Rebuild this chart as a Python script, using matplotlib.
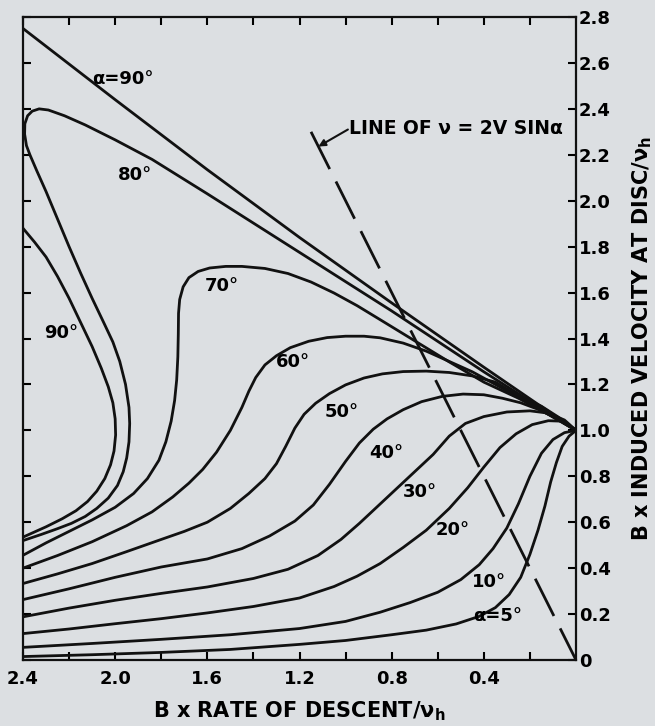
import numpy as np
import matplotlib.pyplot as plt

plt.rcParams['font.family'] = ['DejaVu Sans']
plt.rcParams['font.weight'] = 'bold'
plt.rcParams['axes.labelweight'] = 'bold'
plt.rcParams['mathtext.fontset'] = 'dejavusans'

bg_color = '#dcdfe2'

# alpha = 90 deg, upper branch
x_90_upper = [2.40, 2.00, 1.60, 1.20, 0.80, 0.40, 0.00]
y_90_upper = [2.75, 2.44, 2.135, 1.84, 1.555, 1.275, 1.00]

# alpha = 90 deg, inner loop
x_90_loop = [2.40, 2.35, 2.30, 2.25, 2.20, 2.15, 2.10, 2.06, 2.03, 2.01, 2.00,
             1.998, 2.005, 2.02, 2.045, 2.08, 2.12, 2.17, 2.23, 2.30, 2.40]
y_90_loop = [1.88, 1.82, 1.755, 1.67, 1.575, 1.47, 1.365, 1.27, 1.19, 1.12, 1.05,
             0.98, 0.91, 0.85, 0.79, 0.735, 0.69, 0.65, 0.615, 0.58, 0.535]

x_80 = [0.00, 0.40, 0.80, 1.20, 1.60, 1.84, 2.00, 2.13, 2.22, 2.29, 2.33,
        2.36, 2.38, 2.392, 2.393, 2.385, 2.37, 2.34, 2.30, 2.25, 2.20, 2.15,
        2.10, 2.05, 2.01, 1.98, 1.955, 1.94, 1.937, 1.94, 1.95, 1.965, 1.99,
        2.03, 2.08, 2.13, 2.19, 2.25, 2.32, 2.40]
y_80 = [1.00, 1.255, 1.52, 1.775, 2.03, 2.18, 2.265, 2.33, 2.37, 2.395, 2.40,
        2.39, 2.37, 2.335, 2.29, 2.24, 2.20, 2.13, 2.04, 1.92, 1.80, 1.685,
        1.575, 1.47, 1.385, 1.30, 1.20, 1.10, 1.03, 0.95, 0.88, 0.82, 0.76,
        0.705, 0.66, 0.625, 0.595, 0.572, 0.547, 0.52]

x_70 = [2.40, 2.30, 2.20, 2.10, 2.00, 1.92, 1.86, 1.81, 1.78, 1.757, 1.742,
        1.733, 1.728, 1.726, 1.725, 1.72, 1.705, 1.68, 1.64, 1.59, 1.52, 1.45,
        1.35, 1.25, 1.15, 1.05, 0.95, 0.85, 0.70, 0.55, 0.40, 0.25, 0.12, 0.00]
y_70 = [0.456, 0.51, 0.56, 0.61, 0.665, 0.725, 0.79, 0.87, 0.95, 1.04, 1.13,
        1.22, 1.32, 1.42, 1.51, 1.57, 1.625, 1.665, 1.692, 1.707, 1.714, 1.714,
        1.705, 1.683, 1.646, 1.598, 1.543, 1.482, 1.39, 1.298, 1.21, 1.14, 1.07, 1.00]

x_60 = [2.40, 2.25, 2.10, 1.95, 1.84, 1.75, 1.68, 1.62, 1.56, 1.50, 1.45,
        1.42, 1.39, 1.35, 1.30, 1.24, 1.16, 1.08, 1.00, 0.92, 0.85, 0.75,
        0.65, 0.55, 0.45, 0.35, 0.25, 0.12, 0.00]
y_60 = [0.40, 0.455, 0.515, 0.585, 0.645, 0.71, 0.77, 0.83, 0.905, 1.00, 1.10,
        1.17, 1.23, 1.285, 1.325, 1.36, 1.388, 1.404, 1.41, 1.41, 1.403, 1.38,
        1.345, 1.30, 1.255, 1.20, 1.145, 1.07, 1.00]

x_50 = [2.40, 2.25, 2.10, 1.95, 1.80, 1.70, 1.60, 1.50, 1.42, 1.35, 1.30,
        1.26, 1.22, 1.18, 1.13, 1.07, 1.00, 0.92, 0.84, 0.75, 0.65, 0.55,
        0.45, 0.35, 0.25, 0.15, 0.08, 0.00]
y_50 = [0.333, 0.375, 0.42, 0.472, 0.525, 0.56, 0.60, 0.66, 0.725, 0.79, 0.855,
        0.93, 1.01, 1.07, 1.118, 1.16, 1.198, 1.228, 1.246, 1.256, 1.258, 1.252,
        1.237, 1.21, 1.15, 1.105, 1.06, 1.00]

x_40 = [2.40, 2.20, 2.00, 1.80, 1.60, 1.45, 1.33, 1.22, 1.14, 1.07, 1.00,
        0.94, 0.88, 0.82, 0.75, 0.67, 0.58, 0.49, 0.40, 0.32, 0.24, 0.16, 0.08, 0.00]
y_40 = [0.263, 0.31, 0.36, 0.405, 0.44, 0.485, 0.54, 0.605, 0.675, 0.765, 0.865,
        0.945, 1.005, 1.05, 1.09, 1.125, 1.148, 1.158, 1.155, 1.14, 1.12, 1.09, 1.05, 1.00]

x_30 = [2.40, 2.20, 2.00, 1.80, 1.60, 1.40, 1.25, 1.12, 1.02, 0.94, 0.86,
        0.78, 0.70, 0.62, 0.55, 0.48, 0.40, 0.30, 0.20, 0.12, 0.05, 0.00]
y_30 = [0.188, 0.226, 0.26, 0.29, 0.318, 0.355, 0.395, 0.455, 0.525, 0.595, 0.67,
        0.745, 0.82, 0.895, 0.975, 1.03, 1.06, 1.08, 1.085, 1.075, 1.045, 1.00]

x_20 = [2.40, 2.20, 2.00, 1.80, 1.60, 1.40, 1.20, 1.05, 0.95, 0.85, 0.75,
        0.65, 0.55, 0.47, 0.40, 0.33, 0.26, 0.19, 0.12, 0.06, 0.00]
y_20 = [0.115, 0.135, 0.158, 0.18, 0.205, 0.233, 0.27, 0.32, 0.365, 0.42, 0.49,
        0.565, 0.66, 0.75, 0.84, 0.925, 0.985, 1.025, 1.042, 1.04, 1.00]

x_10 = [2.40, 2.10, 1.80, 1.50, 1.20, 1.00, 0.85, 0.72, 0.60, 0.50, 0.42,
        0.36, 0.30, 0.25, 0.20, 0.15, 0.10, 0.05, 0.00]
y_10 = [0.055, 0.072, 0.09, 0.11, 0.137, 0.168, 0.208, 0.25, 0.295, 0.35, 0.415,
        0.485, 0.575, 0.68, 0.80, 0.90, 0.96, 0.99, 1.00]

x_5 = [2.40, 2.10, 1.80, 1.50, 1.20, 1.00, 0.80, 0.65, 0.52, 0.42, 0.35,
       0.29, 0.24, 0.20, 0.165, 0.135, 0.11, 0.085, 0.06, 0.03, 0.00]
y_5 = [0.015, 0.023, 0.033, 0.046, 0.068, 0.085, 0.11, 0.13, 0.157, 0.19, 0.228,
       0.285, 0.36, 0.46, 0.565, 0.67, 0.775, 0.86, 0.93, 0.975, 1.00]

# line of v = 2V sin(alpha)
dash_x = [1.15, 0.0]
dash_y = [2.30, 0.0]

label_text = ['α=90°', '80°', '90°', '70°', '60°', '50°', '40°', '30°', '20°', '10°', 'α=5°']
label_x = [1.966, 1.914, 2.235, 1.536, 1.228, 1.016, 0.825, 0.677, 0.534, 0.378, 0.339]
label_y = [2.53, 2.114, 1.424, 1.628, 1.298, 1.08, 0.903, 0.733, 0.564, 0.339, 0.191]

x_major = [2.4, 2.0, 1.6, 1.2, 0.8, 0.4]
x_major_labels = ['2.4', '2.0', '1.6', '1.2', '0.8', '0.4']
x_minor = [2.2, 1.8, 1.4, 1.0, 0.6, 0.2]
y_ticks = [0, 0.2, 0.4, 0.6, 0.8, 1.0, 1.2, 1.4, 1.6, 1.8, 2.0, 2.2, 2.4, 2.6, 2.8]
y_tick_labels = ['0', '0.2', '0.4', '0.6', '0.8', '1.0', '1.2', '1.4',
                 '1.6', '1.8', '2.0', '2.2', '2.4', '2.6', '2.8']

if __name__ == "__main__":
    fig = plt.figure(figsize=(6.55, 7.26), dpi=100, facecolor=bg_color)
    ax = fig.add_axes([23 / 655, 1 - 660 / 726, 553 / 655, 643 / 726])
    ax.set_facecolor(bg_color)

    curves = [(x_90_upper, y_90_upper), (x_90_loop, y_90_loop), (x_80, y_80),
              (x_70, y_70), (x_60, y_60), (x_50, y_50), (x_40, y_40),
              (x_30, y_30), (x_20, y_20), (x_10, y_10), (x_5, y_5)]
    for cx, cy in curves:
        ax.plot(cx, cy, color='#111111', lw=2.0, solid_joinstyle='round',
                solid_capstyle='round')

    ax.plot(dash_x, dash_y, color='#111111', lw=2.0, linestyle=(0, (15, 5)))

    for t, lx, ly in zip(label_text, label_x, label_y):
        ax.text(lx, ly, t, fontsize=13, fontweight='bold', ha='center', va='center')

    ax.annotate('', xy=(1.118, 2.236), xytext=(0.99, 2.31),
                arrowprops=dict(arrowstyle='-|>', color='#111111', lw=1.5,
                                mutation_scale=10, shrinkA=0, shrinkB=0))
    ax.text(0.985, 2.313, 'LINE OF ν = 2V SINα', fontsize=13.5, fontweight='bold',
            ha='left', va='center')

    ax.set_xlim(2.4, 0.0)
    ax.set_ylim(0.0, 2.8)

    ax.set_xticks(x_major)
    ax.set_xticklabels(x_major_labels, fontweight='bold')
    ax.set_xticks(x_minor, minor=True)
    ax.set_yticks(y_ticks)
    ax.set_yticklabels(y_tick_labels, fontweight='bold')

    ax.tick_params(axis='x', which='both', direction='in', top=True, bottom=True,
                   length=6, width=1.5, labelsize=13, pad=7)
    ax.tick_params(axis='y', direction='in', left=True, right=True,
                   labelleft=False, labelright=True, length=6, width=1.5,
                   labelsize=13, pad=2)

    for s in ax.spines.values():
        s.set_linewidth(1.6)
        s.set_color('#111111')

    ax.set_xlabel('B x RATE OF DESCENT/ν$_\\mathbf{h}$', fontsize=15, fontweight='bold')
    ax.xaxis.set_label_coords(0.5, -0.062)
    ax.yaxis.set_label_position('right')
    ax.set_ylabel('B x INDUCED VELOCITY AT DISC/ν$_\\mathbf{h}$', fontsize=15,
                  fontweight='bold')
    ax.yaxis.set_label_coords(1.098, 0.5)

    fig.savefig('out.png', dpi=100, facecolor=bg_color)
